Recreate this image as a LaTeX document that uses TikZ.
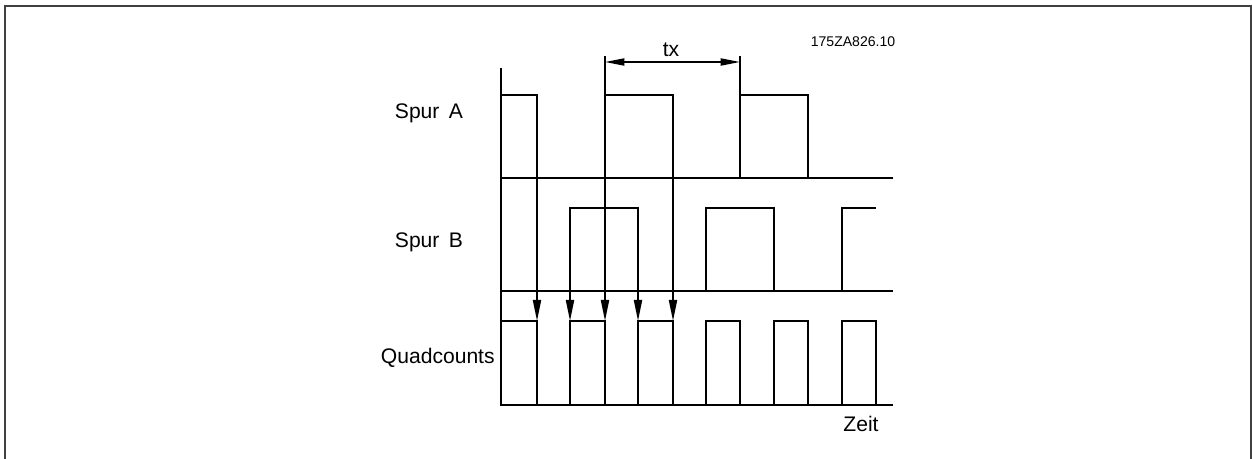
\documentclass[tikz,border=0pt]{standalone}
\usepackage{fontspec}
\setmainfont{Liberation Sans}
\usetikzlibrary{arrows.meta}

\begin{document}
\begin{tikzpicture}[x=0.02cm,y=-0.02cm]
		\tikzstyle{signal} = [line width=1pt, line join=miter]
		\tikzstyle{axis} = [line width=1.1pt]
		\tikzstyle{label} = [font=\fontsize{12}{14}\selectfont, inner sep=0pt]
		\tikzstyle{pulse} = [-{Triangle[length=12pt,width=4.6pt]}, line width=1pt]
		\useasboundingbox (0,0) rectangle (1253,459);
		% frame
		\draw[black!75, line width=0.9pt] (5,459) -- (5,6) -- (1251,6) -- (1251,459);

		% axes and base lines
		\draw[axis] (501,68) -- (501,405) -- (893,405);
		\draw[axis] (501,178) -- (893,178);
		\draw[axis] (501,291) -- (893,291);

		% Spur A
		\draw[signal] (501,95) -- (537,95) -- (537,178) -- (605,178) -- (605,95) -- (673,95) -- (673,178)
			-- (740,178) -- (740,95) -- (808,95) -- (808,178) -- (877,178);
		% Spur B
		\draw[signal] (501,291) -- (570,291) -- (570,208) -- (638,208) -- (638,291) -- (706,291) -- (706,208)
			-- (774,208) -- (774,291) -- (842,291) -- (842,208) -- (876,208);
		% Quadcounts
		\draw[signal] (501,321) -- (537,321) -- (537,405) -- (570,405) -- (570,321) -- (605,321) -- (605,405)
			-- (638,405) -- (638,321) -- (673,321) -- (673,405) -- (706,405) -- (706,321) -- (740,321)
			-- (740,405) -- (774,405) -- (774,321) -- (808,321) -- (808,405) -- (842,405) -- (842,321)
			-- (876,321) -- (876,405);

		% edges to counts
		\draw[pulse] (537,178) -- (537,321);
		\draw[pulse] (570,291) -- (570,321);
		\draw[pulse] (605,178) -- (605,321);
		\draw[pulse] (638,291) -- (638,321);
		\draw[pulse] (673,178) -- (673,321);

		% period tx
		\coordinate (txl) at (605,62);
		\coordinate (txr) at (740,62);
		\draw[line width=1pt] (605,56) -- (605,95);
		\draw[line width=1pt] (740,56) -- (740,95);
		\draw[{Triangle[length=11pt,width=4pt]}-{Triangle[length=11pt,width=4pt]}, line width=1pt] (txl) -- (txr);
		\node [label, anchor=base] (tx) at (671,57) {tx};

		\node [label, anchor=base] (spura) at (429,119) {Spur\hspace{0.45em}A};
		\node [label, anchor=base] (spurb) at (429,247) {Spur\hspace{0.45em}B};
		\node [label, anchor=base east] (quad) at (495,363) {Quadcounts};
		\node [label, anchor=base] (zeit) at (861,431) {Zeit};
		\node [label, font=\fontsize{8}{10}\selectfont, anchor=base] (ref) at (853,47) {175ZA826.10};
	\end{tikzpicture}
\end{document}
